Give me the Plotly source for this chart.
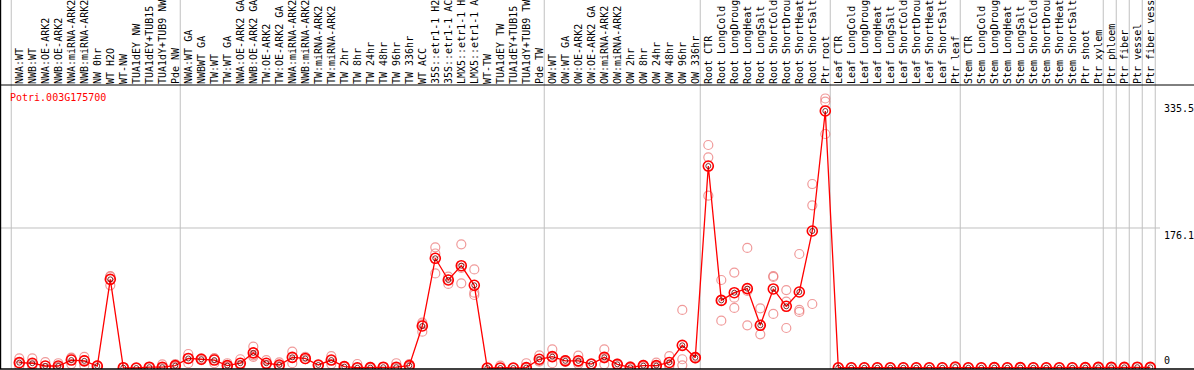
import plotly.graph_objects as go

labels = [
    "NWA:WT", "NWB:WT", "NWA:OE-ARK2", "NWB:OE-ARK2", "NWA:miRNA-ARK2", "NWB:miRNA-ARK2",
    "NW 0hr", "WT H2O", "WT-NW", "TUA1dEY NW", "TUA1dEY+TUB15 NW", "TUA1dY+TUB9 NW", "Pde NW",
    "NWA:WT GA", "NWBWT GA", "TW:WT", "TW:WT GA", "NWA:OE-ARK2 GA", "NWB:OE-ARK2 GA",
    "TW:OE-ARK2", "TW:OE-ARK2 GA", "NWA:miRNA-ARK2", "NWB:miRNA-ARK2", "TW:miRNA-ARK2",
    "TW:miRNA-ARK2", "TW 2hr", "TW 8hr", "TW 24hr", "TW 48hr", "TW 96hr", "TW 336hr", "WT ACC",
    "35S::etr1-1 H2O", "35S::etr1-1 ACC", "LMX5::etr1-1 H2O", "LMX5::etr1-1 ACC", "WT-TW",
    "TUA1dEY TW", "TUA1dEY+TUB15 TW", "TUA1dY+TUB9 TW", "Pde TW",
    "OW:WT", "OW:WT GA", "OW:OE-ARK2", "OW:OE-ARK2 GA", "OW:miRNA-ARK2", "OW:miRNA-ARK2",
    "OW 2hr", "OW 8hr", "OW 24hr", "OW 48hr", "OW 96hr", "OW 336hr",
    "Root CTR", "Root LongCold", "Root LongDrought", "Root LongHeat", "Root LongSalt",
    "Root ShortCold", "Root ShortDrought", "Root ShortHeat", "Root ShortSalt", "Ptr root",
    "Leaf CTR", "Leaf LongCold", "Leaf LongDrought", "Leaf LongHeat", "Leaf LongSalt",
    "Leaf ShortCold", "Leaf ShortDrought", "Leaf ShortHeat", "Leaf ShortSalt", "Ptr leaf",
    "Stem CTR", "Stem LongCold", "Stem LongDrought", "Stem LongHeat", "Stem LongSalt",
    "Stem ShortCold", "Stem ShortDrought", "Stem ShortHeat", "Stem ShortSalt", "Ptr shoot",
    "Ptr xylem", "Ptr phloem", "Ptr fiber", "Ptr vessel", "Ptr fiber vessel",
]

mean_values = [
    6.7, 6, 2.5, 2.5, 10, 9, 2.5, 111.5, 0.4, 0, 1, 1, 3,
    12, 11, 10, 3, 6, 19, 6, 3.8, 13.4, 12, 3.8, 10, 1.7, 0.3, 0.5, 1, 1, 3,
    52.8, 138, 110.7, 128.7, 104, 0, 0, 0, 0.5, 11,
    14.3, 9, 9, 5, 13.4, 4.6, 0.8, 3, 3, 7, 28.5, 13,
    254, 85, 94.7, 99.8, 53.7, 99.4, 77.6, 95.6, 172.3, 323.3,
    0.3, 0.3, 0.3, 0.3, 0.3, 0.3, 0.3, 0.3, 0.3, 1.2,
    0.3, 0.3, 0.5, 0.3, 0.5, 0.3, 0.3, 0.3, 0.3, 0.5,
    0.8, 0.8, 0.8, 1.0, 0.8,
]

replicates = [
    [12, 2.5, 6], [12, 2, 5], [7.5, 0, 0], [6, 1, 1], [13, 5, 12], [14, 3, 10], [3, 2, 3],
    [115.7, 115, 104], [0.5, 0.3, 0.5], [0, 0, 0], [1, 1.5, 0.5], [4.6, 0, 0], [5, 2, 2],
    [17.6, 12, 6], [12, 10, 11], [12, 6, 12], [6, 2, 1], [11, 3, 4], [27, 14, 16], [10, 4, 4],
    [7, 2, 2.5], [20.5, 6, 13], [14, 11, 11], [3.8, 3.5, 4], [15, 5, 10], [1.7, 1.5, 2],
    [5, 0, 0], [1.5, 0, 0], [1, 1, 1], [6, 0, 0], [5, 2, 2],
    [57, 45.7, 55], [151.8, 144, 119], [115, 105.7, 111], [155.6, 106.5, 126],
    [124, 94.7, 91.8], [0, 0, 0], [3, 0, 0], [0, 0, 0], [6, 0, 0], [16, 8, 9],
    [23.5, 6, 14], [9, 8, 10], [15.5, 5, 7], [5, 5, 5], [23.5, 4.6, 12], [5.5, 4.5, 4],
    [2, 0.5, 0], [4, 3, 2], [6.7, 2, 2], [15, 2, 4], [73, 11, 3.4], [12, 14, 13],
    [280.5, 265, 216.7], [110.7, 85, 59.5], [120, 88.5, 75.5], [151, 97, 53.7],
    [75, 42.4, 54], [115.7, 114.5, 68], [98, 83.4, 50.3], [143.4, 73, 70.5],
    [231.4, 204.6, 80.5], [339, 335, 294.3],
    [0.3, 0.3, 0.3], [0.3, 0.3, 0.3], [0.3, 0.3, 0.3], [0.3, 0.3, 0.3], [0.3, 0.3, 0.3],
    [0.3, 0.3, 0.3], [0.3, 0.3, 0.3], [0.3, 0.3, 0.3], [0.3, 0.3, 0.3], [1.2, 1.2, 1.2],
    [0.3, 0.3, 0.3], [0.3, 0.3, 0.3], [0.5, 0.5, 0.5], [0.3, 0.3, 0.3], [0.5, 0.5, 0.5],
    [0.3, 0.3, 0.3], [0.3, 0.3, 0.3], [0.3, 0.3, 0.3], [0.3, 0.3, 0.3], [0.5, 0.5, 0.5],
    [0.8, 0.8, 0.8], [0.8, 0.8, 0.8], [0.8, 0.8, 0.8], [1.0, 1.0, 1.0], [0.8, 0.8, 0.8],
]

group_starts = [0, 13, 41, 53, 63, 73, 84, 85, 86, 87, 88]
y_tick_values = [335.5, 176.1, 0]
y_tick_text = ["335.5", "176.1", "0"]
gene_name = "Potri.003G175700"

W, H = 1194, 370
TOP, BOT = 85, 1
PLOT_H = H - TOP - BOT
MONO = "DejaVu Sans Mono"

x = list(range(len(labels)))
rep_x, rep_y = [], []
for i, reps in enumerate(replicates):
    for v in reps:
        rep_x.append(i)
        rep_y.append(v)

fig = go.Figure()
fig.add_trace(go.Scatter(
    x=rep_x, y=rep_y, mode="markers",
    marker=dict(symbol="circle-open", size=9, color="rgba(235,120,120,0.75)",
                line=dict(width=1.2, color="rgba(235,120,120,0.75)")),
    hoverinfo="skip", showlegend=False,
))
fig.add_trace(go.Scatter(
    x=x, y=mean_values, mode="lines+markers",
    line=dict(color="#ff0000", width=1.3),
    marker=dict(symbol="circle-open", size=10, color="#ff0000",
                line=dict(width=1.6, color="#ff0000")),
    showlegend=False,
))
fig.add_trace(go.Scatter(
    x=x, y=mean_values, mode="markers",
    marker=dict(symbol="circle-open", size=5, color="#600000",
                line=dict(width=0.8, color="#600000")),
    hoverinfo="skip", showlegend=False,
))

px_per_col = 13.0
x0_px = 19.3
xmin = -x0_px / px_per_col
xmax = xmin + W / px_per_col

shapes = []
top_paper = (H - BOT) / PLOT_H
for g in group_starts:
    shapes.append(dict(type="line", xref="x", yref="paper", x0=g - 0.62, x1=g - 0.62,
                       y0=0, y1=top_paper, line=dict(color="#c0c0c0", width=1), layer="below"))
shapes.append(dict(type="line", xref="paper", yref="y", x0=0, x1=1160 / W,
                   y0=176.1, y1=176.1, line=dict(color="#c0c0c0", width=1), layer="below"))
shapes.append(dict(type="line", xref="paper", yref="paper", x0=0, x1=1, y0=1, y1=1,
                   line=dict(color="black", width=1)))
shapes.append(dict(type="line", xref="paper", yref="paper", x0=0, x1=1, y0=0, y1=0,
                   line=dict(color="black", width=1.5)))
shapes.append(dict(type="line", xref="paper", yref="paper", x0=0.6 / W, x1=0.6 / W,
                   y0=0, y1=top_paper, line=dict(color="black", width=1.2)))

annotations = [dict(text=gene_name, xref="paper", yref="paper", x=8 / W,
                    y=(H - BOT - 97) / PLOT_H, xanchor="left", yanchor="middle",
                    showarrow=False, font=dict(family=MONO, size=10, color="#ff0000"))]
for v, t in zip(y_tick_values, y_tick_text):
    annotations.append(dict(text=t, xref="paper", yref="y", x=1162 / W, y=v,
                            xanchor="left", yanchor="bottom" if v == 0 else "top",
                            showarrow=False, font=dict(family=MONO, size=10, color="black")))

fig.update_layout(
    width=W, height=H, template="none",
    margin=dict(l=0, r=0, t=TOP, b=BOT, pad=0),
    paper_bgcolor="white", plot_bgcolor="white",
    shapes=shapes, annotations=annotations,
    xaxis=dict(range=[xmin, xmax], side="top", tickmode="array", tickvals=x, ticktext=labels,
               tickangle=-90, tickfont=dict(family=MONO, size=10, color="black"),
               ticks="", showgrid=False, zeroline=False, showline=False,
               automargin=False, ticklabeloverflow="allow", ticklabelstandoff=0),
    yaxis=dict(range=[-1.26, 355.95], showticklabels=False, ticks="", showgrid=False,
               zeroline=False, showline=False, automargin=False),
)

fig.write_html("out.html", config={"displayModeBar": False},
               post_script="document.body.style.margin='0';document.body.style.overflow='hidden';")
